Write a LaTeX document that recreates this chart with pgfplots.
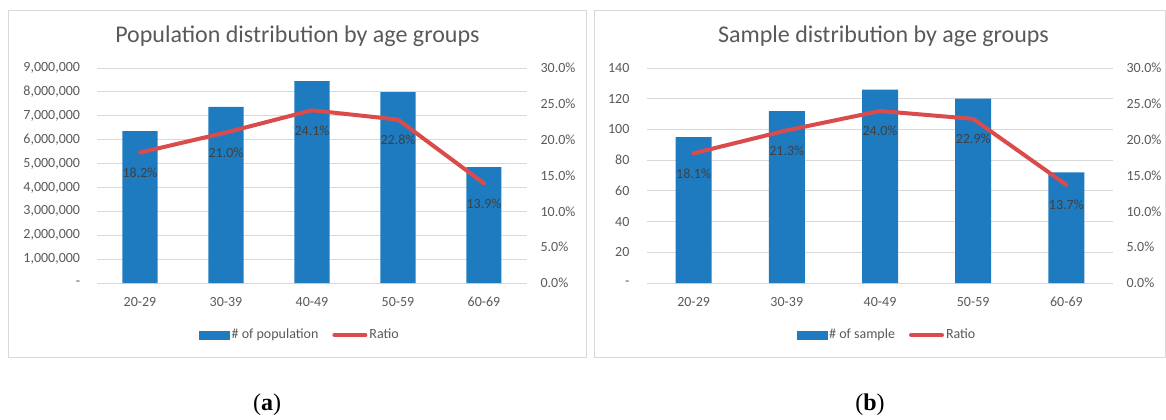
\documentclass[border=0pt]{standalone}
\usepackage{pgfplots}
\pgfplotsset{compat=1.18}
\usepackage{fontspec}
\setmainfont{Carlito}
\newfontfamily\capfont{Liberation Serif}
\definecolor{barblue}{HTML}{1E7BC0}
\definecolor{linered}{HTML}{DA4B4B}
\definecolor{gridgray}{HTML}{D9D9D9}
\definecolor{txtgray}{HTML}{595959}
\definecolor{lblgray}{HTML}{404040}
\pgfplotsset{
  base/.style={
    scale only axis,
    width=#1,
    height=161.25pt,
    anchor=south west,
    xmin=-0.5, xmax=4.5,
    clip=false,
    scaled y ticks=false,
    major tick length=0pt,
    axis line style={draw=none},
    tick label style={font=\fontsize{10.5}{12}\selectfont, text=txtgray},
  },
  leftax/.style={
    axis x line*=bottom, axis y line*=left,
    ymajorgrids, grid style={gridgray, line width=0.75pt},
    xtick={0,1,2,3,4},
    xticklabels={20-29,30-39,40-49,50-59,60-69},
    xticklabel style={anchor=center, inner sep=0pt, yshift=-14.25pt},
    yticklabel style={anchor=east, inner sep=0pt, xshift=-12.5pt},
    title style={font=\fontsize{18}{20}\selectfont, text=txtgray, anchor=base, yshift=0pt},
  },
  rightax/.style={
    axis y line*=right, axis x line=none,
    ymin=0, ymax=30, ytick={0,5,10,15,20,25,30},
    yticklabels={0.0\%,5.0\%,10.0\%,15.0\%,20.0\%,25.0\%,30.0\%},
    yticklabel style={anchor=west, inner sep=0pt, xshift=10pt},
    point meta=explicit symbolic,
    legend columns=-1,
    legend style={draw=none, fill=none, font=\fontsize{10.5}{12}\selectfont, text=txtgray,
      anchor=center, inner sep=0pt,
      nodes={inner sep=1.5pt},
      /tikz/every even column/.append style={column sep=9pt}},
  },
  ratioline/.style={linered, line width=3pt, line cap=round, line join=round,
    nodes near coords,
    every node near coord/.append style={anchor=center, yshift=-15pt, text=lblgray,
      font=\fontsize{10.5}{12}\selectfont},
    legend image code/.code={\draw[##1] (1.5pt,0pt) -- (24.75pt,0pt);}},
  barleg/.style={legend image code/.code={\fill[barblue] (0pt,-3pt) rectangle (22.5pt,3pt);}},
}
\begin{document}
\begin{tikzpicture}
\path[use as bounding box] (0,0) rectangle (874.5pt,-314.25pt);
% panel frames
\draw[gridgray, line width=0.75pt] (6pt,-7.5pt) rectangle (439.5pt,-267.75pt);
\draw[gridgray, line width=0.75pt] (445.5pt,-7.5pt) rectangle (873.75pt,-267.75pt);

% ---------- (a) ----------
\begin{axis}[base=322.5pt, leftax, at={(72.75pt,-212.25pt)},
  ymin=0, ymax=9000000,
  ytick={0,1000000,2000000,3000000,4000000,5000000,6000000,7000000,8000000,9000000},
  yticklabels={-,{1,000,000},{2,000,000},{3,000,000},{4,000,000},{5,000,000},{6,000,000},{7,000,000},{8,000,000},{9,000,000}},
  title={Population distribution by age groups},
  title style={at={(0.466,1.08)}},
]
\addplot[ybar, bar width=26.25pt, fill=barblue, draw=none] coordinates {
  (0,6360000) (1,7370000) (2,8450000) (3,7990000) (4,4850000)};
\end{axis}
\begin{axis}[base=322.5pt, rightax, at={(72.75pt,-212.25pt)},
  legend style={at={(0.472,-0.242)}},
]
\addlegendimage{barleg}
\addlegendentry{\# of population}
\addplot[ratioline] coordinates {
  (0,18.2) [18.2\%] (1,21.0) [21.0\%] (2,24.1) [24.1\%] (3,22.8) [22.8\%] (4,13.9) [13.9\%]};
\addlegendentry{Ratio}
\end{axis}

% ---------- (b) ----------
\begin{axis}[base=349.5pt, leftax, at={(485.25pt,-212.25pt)},
  ymin=0, ymax=140,
  ytick={0,20,40,60,80,100,120,140},
  yticklabels={-,20,40,60,80,100,120,140},
  yticklabel style={xshift=-0.5pt},
  title={Sample distribution by age groups},
  title style={at={(0.5075,1.08)}},
]
\addplot[ybar, bar width=27pt, fill=barblue, draw=none] coordinates {
  (0,95) (1,112) (2,126) (3,120) (4,72)};
\end{axis}
\begin{axis}[base=349.5pt, rightax, at={(485.25pt,-212.25pt)},
  legend style={at={(0.515,-0.242)}},
]
\addlegendimage{barleg}
\addlegendentry{\# of sample}
\addplot[ratioline] coordinates {
  (0,18.1) [18.1\%] (1,21.3) [21.3\%] (2,24.0) [24.0\%] (3,22.9) [22.9\%] (4,13.7) [13.7\%]};
\addlegendentry{Ratio}
\end{axis}

\node[font=\fontsize{18}{20}\selectfont\capfont] at (200.25pt,-303.75pt) {(\textbf{a})};
\node[font=\fontsize{18}{20}\selectfont\capfont] at (652.5pt,-303.75pt) {(\textbf{b})};
\end{tikzpicture}
\end{document}
